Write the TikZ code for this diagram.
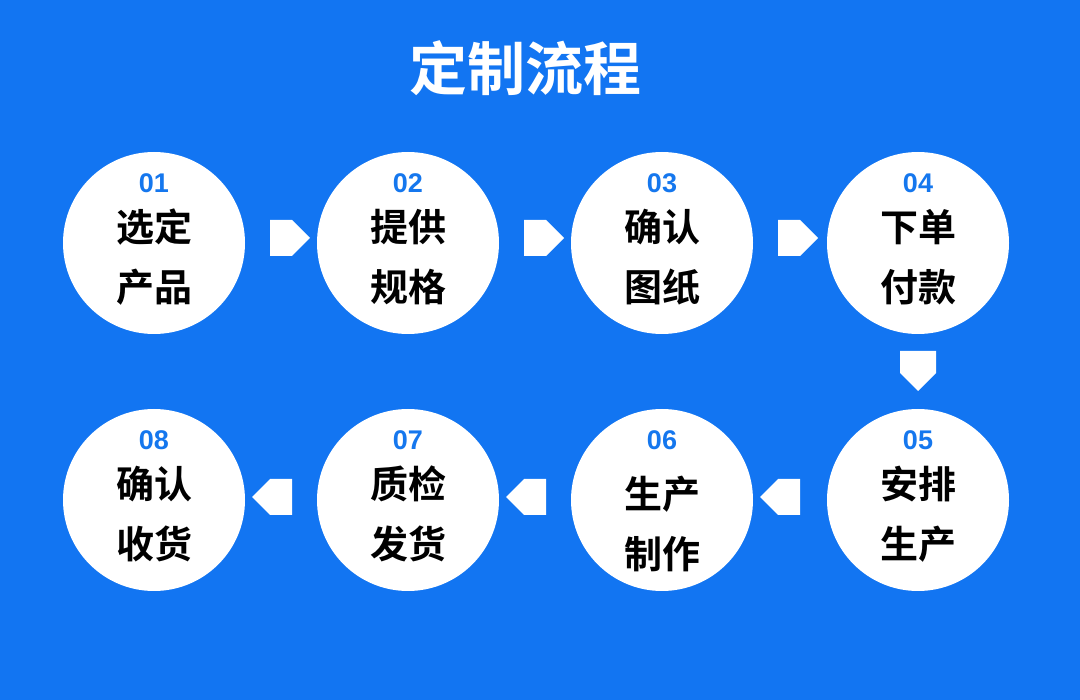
\documentclass[tikz,border=0pt]{standalone}
\usepackage{fontspec}
\usetikzlibrary{shapes.arrows}
\newfontfamily\cjk{Noto Sans CJK SC}[BoldFont={Noto Sans CJK SC Bold}]
\newfontfamily\numf{Liberation Sans}
\definecolor{bg}{HTML}{1275F2}
\definecolor{nb}{HTML}{1577EE}
\begin{document}
\begin{tikzpicture}[x=1pt,y=-1pt,
  stepc/.style={circle,fill=white,minimum size=182pt,inner sep=0pt},
  num/.style={font=\numf\bfseries\fontsize{27}{27}\selectfont,text=nb},
  lab/.style={font=\cjk\bfseries\fontsize{38}{38}\selectfont,text=black},
  arr/.style={single arrow,fill=white,minimum height=40pt,minimum width=36pt,single arrow head extend=0pt,inner sep=0pt,single arrow tip angle=90}]
\fill[bg] (0,0) rectangle (1080,700);
\useasboundingbox (0,0) rectangle (1080,700);
\node[font=\cjk\bfseries\fontsize{58}{58}\selectfont,text=white] (title) at (525,68) {定制流程};
\foreach \n/\x/\y/\a/\b/\d in {1/154/243/选定/产品/0,2/408/243/提供/规格/0,3/662/243/确认/图纸/0,4/918/243/下单/付款/0,
  5/918/500/安排/生产/0,6/662/500/生产/制作/10,7/408/500/质检/发货/0,8/154/500/确认/收货/0}{
  \node[stepc] (c\n) at (\x,\y) {};
  \node[num] (n\n) at (\x,\y-60) {0\n};
  \node[lab] (a\n) at (\x,\y-16+\d) {\a};
  \node[lab] (b\n) at (\x,\y+44+\d) {\b};
}
\node[arr] (r1) at (281,238) {};
\node[arr] (r2) at (535,238) {};
\node[arr] (r3) at (789,238) {};
\node[arr,shape border rotate=270] (d1) at (918,362) {};
\node[arr,shape border rotate=180] (l1) at (789,497) {};
\node[arr,shape border rotate=180] (l2) at (535,497) {};
\node[arr,shape border rotate=180] (l3) at (281,497) {};
\end{tikzpicture}
\end{document}
